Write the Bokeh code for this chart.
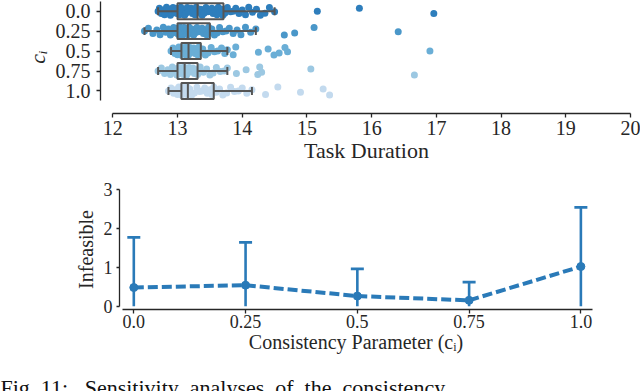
from bokeh.plotting import figure
from bokeh.models import Range1d, FixedTicker, Title
from bokeh.layouts import column, row
from bokeh.embed import file_html
from bokeh.resources import INLINE
import numpy as np

# ---------------- data: top panel (strip + box) ----------------
categories = ["0.0", "0.25", "0.5", "0.75", "1.0"]

dur_c00 = [12.70, 12.72, 12.75, 12.78, 12.80, 12.83, 12.85, 12.87, 12.89, 12.91, 12.93, 12.95, 12.96, 12.98, 12.99,
           13.01, 13.03, 13.05, 13.07, 13.09, 13.11, 13.13, 13.15, 13.17, 13.19, 13.21, 13.23, 13.25, 13.27, 13.29,
           13.33, 13.36, 13.38, 13.41, 13.44, 13.47, 13.50, 13.53, 13.55, 13.58, 13.61, 13.63, 13.66, 13.68, 13.70,
           13.73, 13.77, 13.82, 13.86, 13.90, 13.95, 14.00, 14.05, 14.10, 14.16, 14.22, 14.28, 14.35, 14.42, 14.50,
           15.16, 15.81, 16.96]
dur_c25 = [12.49, 12.55, 12.62, 12.68, 12.73, 12.78, 12.82, 12.86, 12.89, 12.92, 12.94, 12.96, 12.98, 12.99, 13.00,
           13.01, 13.02, 13.04, 13.05, 13.07, 13.08, 13.09, 13.10, 13.11, 13.12, 13.13, 13.14, 13.15, 13.16,
           13.18, 13.20, 13.22, 13.25, 13.27, 13.30, 13.32, 13.35, 13.38, 13.40, 13.43, 13.45, 13.48, 13.50,
           13.53, 13.57, 13.61, 13.65, 13.70, 13.75, 13.80, 13.86, 13.92, 13.98, 14.05, 14.13, 14.21,
           14.65, 14.81, 15.11, 16.41]
dur_c50 = [12.90, 12.93, 12.96, 12.98, 13.00, 13.02, 13.03, 13.04, 13.05, 13.06,
           13.07, 13.08, 13.09, 13.10, 13.11, 13.12, 13.13, 13.14, 13.15, 13.16, 13.17,
           13.18, 13.19, 13.21, 13.23, 13.25, 13.27, 13.29, 13.31, 13.33, 13.36,
           13.39, 13.43, 13.47, 13.52, 13.57, 13.62, 13.68, 13.73, 13.77,
           13.86, 13.90, 14.25, 14.40, 14.49, 14.57, 14.66, 14.70, 16.90]
dur_c75 = [12.70, 12.75, 12.80, 12.85, 12.89, 12.92, 12.95, 12.97, 12.99, 13.00,
           13.02, 13.03, 13.05, 13.06, 13.07, 13.08, 13.09, 13.10, 13.11,
           13.12, 13.14, 13.16, 13.18, 13.20, 13.22, 13.24, 13.26, 13.28, 13.31,
           13.35, 13.40, 13.45, 13.50, 13.55, 13.60, 13.66, 13.72, 13.77,
           13.91, 14.06, 14.24, 14.27, 14.30, 15.06, 16.66]
dur_c100 = [12.86, 12.90, 12.94, 12.97, 13.00, 13.02, 13.04, 13.05, 13.06,
            13.07, 13.08, 13.09, 13.10, 13.11, 13.12, 13.13, 13.14, 13.15, 13.16,
            13.19, 13.22, 13.26, 13.30, 13.34, 13.38, 13.42, 13.46, 13.50, 13.53, 13.56,
            13.60, 13.65, 13.70, 13.76, 13.82, 13.88, 13.94, 14.00, 14.07, 14.15,
            14.36, 14.55, 14.90, 15.25, 15.35]

box_whisker_lo = [12.70, 12.49, 12.90, 12.70, 12.86]
box_q1 = [13.00, 13.00, 13.06, 13.00, 13.06]
box_median = [13.31, 13.16, 13.17, 13.11, 13.16]
box_q3 = [13.71, 13.50, 13.36, 13.31, 13.56]
box_whisker_hi = [14.50, 14.21, 13.77, 13.77, 14.15]

x_ticks_top = [12, 13, 14, 15, 16, 17, 18, 19, 20]

# ---------------- data: bottom panel (point plot) ----------------
consistency = [0.0, 0.25, 0.5, 0.75, 1.0]
consistency_labels = ["0.0", "0.25", "0.5", "0.75", "1.0"]
infeasible_mean = [0.48, 0.54, 0.26, 0.15, 1.02]
infeasible_upper = [1.77, 1.64, 0.96, 0.62, 2.54]
y_ticks_bottom = [0, 1, 2, 3]

caption_text = "Fig.\u00a011:\u00a0\u00a0\u00a0Sensitivity\u00a0\u00a0analyses\u00a0\u00a0of\u00a0\u00a0the\u00a0\u00a0consistency"

# ---------------- styles ----------------
strip_colors = ["#2e7ebc", "#4a97c9", "#6aaed6", "#9cc8e2", "#c3daee"]
jitter = [0.0, -0.15, 0.12, -0.06, 0.18, -0.2, 0.06, -0.1, 0.2, 0.1, -0.18, 0.03]
box_color = "#555555"
axis_color = "#262626"
blue = "#2a7ab8"
FONT = "Liberation Serif"

# ---------------- top figure ----------------
p1 = figure(frame_width=532, frame_height=113,
            x_range=Range1d(11.81, 20.03), y_range=Range1d(5.13, -0.535),
            output_backend="svg", toolbar_location=None,
            min_border_left=100, min_border_right=8, min_border_top=0, min_border_bottom=58)

strips = [dur_c00, dur_c25, dur_c50, dur_c75, dur_c100]
for i, (vals, col) in enumerate(zip(strips, strip_colors)):
    ys = [i + jitter[k % len(jitter)] for k in range(len(vals))]
    p1.scatter(vals, ys, size=7, fill_color=col, line_color=None)

pos = np.arange(len(categories))
p1.quad(left=box_q1, right=box_q3, bottom=pos - 0.4, top=pos + 0.4,
        fill_color=None, line_color=box_color, line_width=2)
p1.segment(x0=box_median, x1=box_median, y0=pos - 0.4, y1=pos + 0.4, line_color=box_color, line_width=2)
p1.segment(x0=box_whisker_lo, x1=box_q1, y0=pos, y1=pos, line_color=box_color, line_width=2)
p1.segment(x0=box_q3, x1=box_whisker_hi, y0=pos, y1=pos, line_color=box_color, line_width=2)
p1.segment(x0=box_whisker_lo, x1=box_whisker_lo, y0=pos - 0.2, y1=pos + 0.2, line_color=box_color, line_width=2)
p1.segment(x0=box_whisker_hi, x1=box_whisker_hi, y0=pos - 0.2, y1=pos + 0.2, line_color=box_color, line_width=2)

p1.xaxis.ticker = FixedTicker(ticks=x_ticks_top)
p1.xaxis.bounds = (x_ticks_top[0], x_ticks_top[-1])
p1.yaxis.ticker = FixedTicker(ticks=list(pos))
p1.yaxis.major_label_overrides = {int(i): c for i, c in zip(pos, categories)}
p1.yaxis.bounds = (-0.5, len(categories) - 0.5)
p1.xaxis.axis_label = "Task Duration"
p1.yaxis.axis_label = "cᵢ"
p1.xaxis.major_label_standoff = 3
p1.xaxis.axis_label_standoff = 0
p1.yaxis.major_label_standoff = 6
p1.yaxis.axis_label_standoff = 3

# ---------------- bottom figure ----------------
p2 = figure(frame_width=473, frame_height=120,
            x_range=Range1d(-0.032, 1.026), y_range=Range1d(-0.085, 3.0),
            output_backend="svg", toolbar_location=None,
            min_border_left=119, min_border_right=48, min_border_top=18, min_border_bottom=0)

mean = np.array(infeasible_mean)
upper = np.array(infeasible_upper)
lower = np.clip(mean - (upper - mean), 0, None)
p2.segment(x0=consistency, x1=consistency, y0=lower, y1=upper, line_color=blue, line_width=2.6)
p2.scatter(consistency, infeasible_upper, marker="dash", size=13, line_color=blue, line_width=2.6)
p2.line(consistency, infeasible_mean, line_color=blue, line_width=4, line_dash="10 4")
p2.scatter(consistency, infeasible_mean, size=8, fill_color=blue, line_color=blue)

p2.xaxis.ticker = FixedTicker(ticks=consistency)
p2.xaxis.major_label_overrides = {c: l for c, l in zip(consistency, consistency_labels)}
p2.xaxis.bounds = (-0.0264, 1.026)
p2.yaxis.ticker = FixedTicker(ticks=y_ticks_bottom)
p2.yaxis.bounds = (y_ticks_bottom[0], y_ticks_bottom[-1])
p2.xaxis.axis_label = "Consistency Parameter (cᵢ)"
p2.yaxis.axis_label = "Infeasible"
p2.xaxis.major_label_standoff = 1
p2.xaxis.axis_label_standoff = 0
p2.yaxis.major_label_standoff = 4
p2.yaxis.axis_label_standoff = 4

caption = Title(text=caption_text, align="left", offset=-119, standoff=34,
                text_font=FONT, text_font_size="22px", text_font_style="normal",
                text_color="#111111")
p2.add_layout(caption, "below")

# ---------------- common styling ----------------
for p, tick_size, label_size in ((p1, "20px", "22px"), (p2, "18px", "20px")):
    p.grid.visible = False
    p.outline_line_color = None
    p.background_fill_color = "white"
    p.border_fill_color = "white"
    for ax in (p.xaxis[0], p.yaxis[0]):
        ax.axis_line_color = axis_color
        ax.axis_line_width = 1.3
        ax.major_tick_line_color = axis_color
        ax.major_tick_line_width = 1.3
        ax.major_tick_in = 0
        ax.major_tick_out = 4
        ax.minor_tick_line_color = None
        ax.major_label_text_font = FONT
        ax.major_label_text_font_size = tick_size
        ax.major_label_text_color = axis_color
        ax.axis_label_text_font = FONT
        ax.axis_label_text_font_size = label_size
        ax.axis_label_text_color = axis_color
        ax.axis_label_text_font_style = "normal"
    p.yaxis[0].major_label_orientation = "horizontal"

p1.yaxis[0].axis_label_text_font_style = "italic"
p2.yaxis[0].major_tick_out = 3

layout = column(p1, row(p2), spacing=0)
open("out.html", "w").write(file_html(layout, INLINE))
